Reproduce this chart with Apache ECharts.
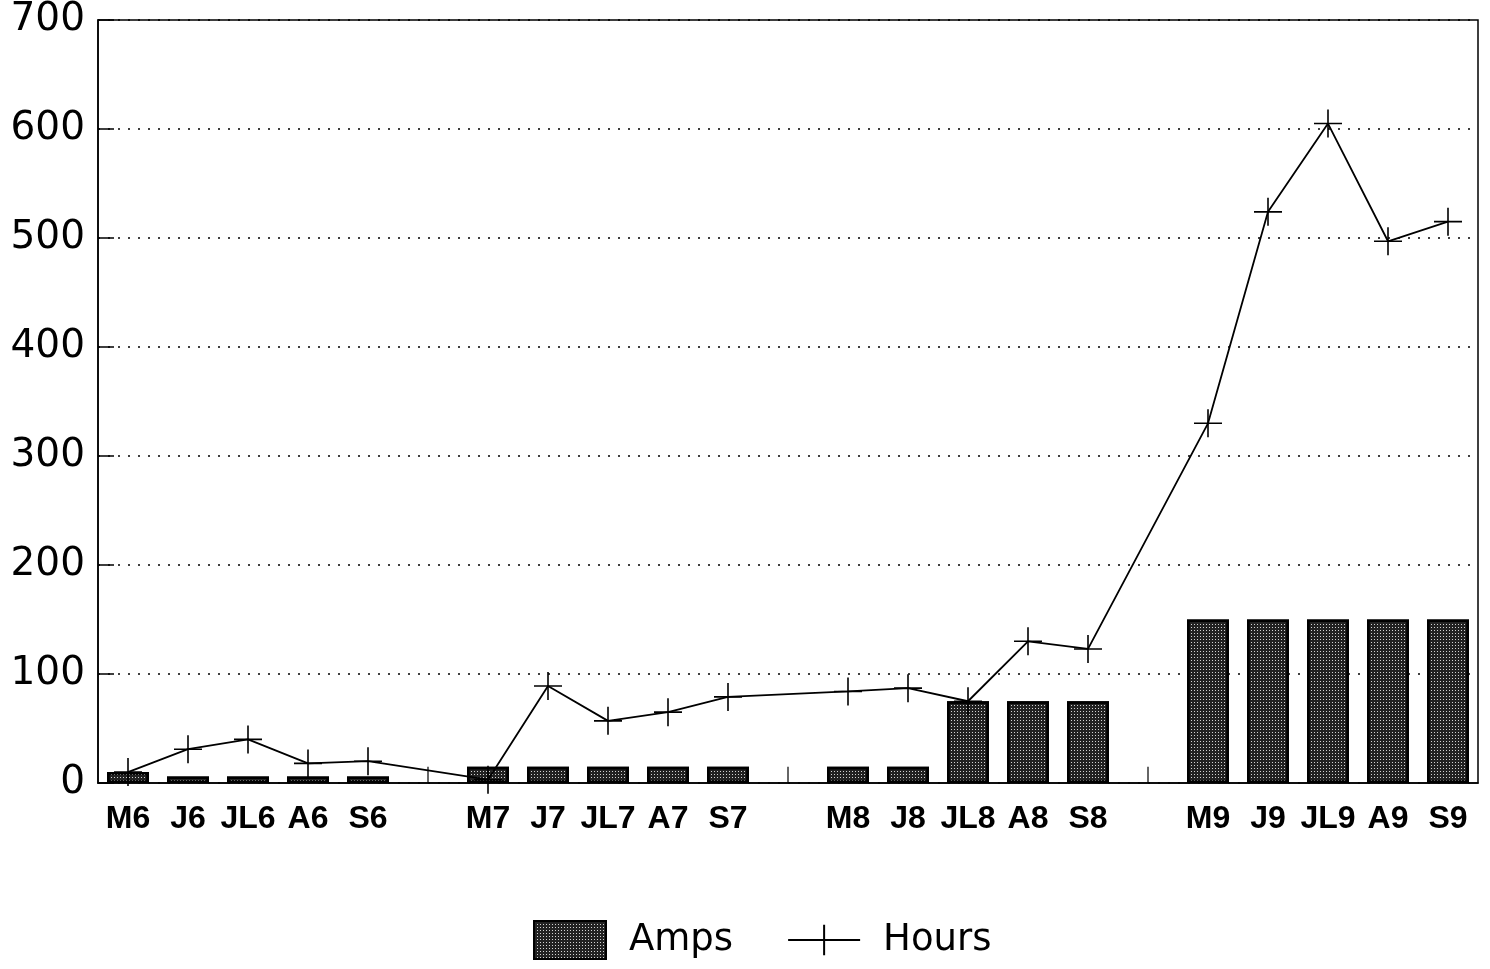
<!DOCTYPE html>
<html>
<head>
<meta charset="utf-8">
<script src="https://cdn.jsdelivr.net/npm/echarts@6/dist/echarts.min.js"></script>
<style>html,body{margin:0;padding:0;background:#fff}#c{width:1490px;height:969px}</style>
</head>
<body>
<div id="c"></div>
<script>
const categories = ['M6','J6','JL6','A6','S6','','M7','J7','JL7','A7','S7','','M8','J8','JL8','A8','S8','','M9','J9','JL9','A9','S9'];
const amps  = [10,6,6,6,6,null,15,15,15,15,15,null,15,15,75,75,75,null,150,150,150,150,150];
const hours = [10,31,40,18,20,null,3,89,57,65,79,null,84,87,75,130,123,null,330,524,605,497,515];
const gapTicks = [null,null,null,null,null,7.5,null,null,null,null,null,7.5,null,null,null,null,null,7.5,null,null,null,null,null];
const yTicks = [0,100,200,300,400,500,600,700];

const chart = echarts.init(document.getElementById('c'));
const cross = 'path://M0,14L28,14M14,0L14,28';
chart.setOption({
  animation: false,
  backgroundColor: '#fff',
  textStyle: {fontFamily: 'Liberation Sans', color: '#000'},
  grid: {left: 98, right: 12, top: 20, bottom: 186, show: true, borderColor: '#000', borderWidth: 1.5, backgroundColor: 'transparent'},
  legend: {
    data: [{name: 'Amps', icon: 'rect'}, 'Hours'],
    bottom: 4,
    left: 528,
    itemWidth: 72,
    itemHeight: 38,
    itemGap: 54,
    textStyle: {fontSize: 37, color: '#000', fontFamily: 'DejaVu Sans', padding: [12, 0, 0, 18]}
  },
  xAxis: {
    type: 'category',
    data: categories,
    boundaryGap: true,
    axisLine: {lineStyle: {color: '#000', width: 1.5}},
    axisTick: {show: false},
    axisLabel: {fontSize: 32, fontWeight: 'bold', color: '#000', margin: 20, interval: 0, fontFamily: 'Liberation Sans'}
  },
  yAxis: {
    type: 'value',
    min: yTicks[0],
    max: yTicks[yTicks.length - 1],
    interval: 100,
    axisLine: {show: true, lineStyle: {color: '#000', width: 1.5}},
    axisTick: {show: true, inside: true, length: 16, lineStyle: {color: '#000', width: 1.5}},
    axisLabel: {fontSize: 39, color: '#000', margin: 13, fontFamily: 'DejaVu Sans'},
    splitLine: {show: true, lineStyle: {color: '#000', width: 1.5, type: [2, 8]}}
  },
  series: [
    {
      name: 'Amps',
      type: 'bar',
      data: amps,
      barWidth: 42,
      itemStyle: {
        color: '#222',
        borderColor: '#000',
        borderWidth: 2.5,
        decal: {symbol: 'rect', symbolSize: 1, color: 'rgba(255,255,255,0.8)', dashArrayX: [1, 2], dashArrayY: [1, 2], rotation: 0}
      }
    },
    {
      name: 'Hours',
      type: 'line',
      data: hours,
      connectNulls: true,
      symbol: cross,
      symbolSize: 28,
      showAllSymbol: true,
      lineStyle: {color: '#000', width: 1.8},
      itemStyle: {color: '#000', borderColor: '#000', borderWidth: 1.6},
      z: 5
    },
    {
      name: 'gap',
      type: 'scatter',
      data: gapTicks,
      symbol: 'rect',
      symbolSize: [1.5, 16],
      itemStyle: {color: '#000'},
      silent: true
    }
  ]
});
</script>
</body>
</html>
